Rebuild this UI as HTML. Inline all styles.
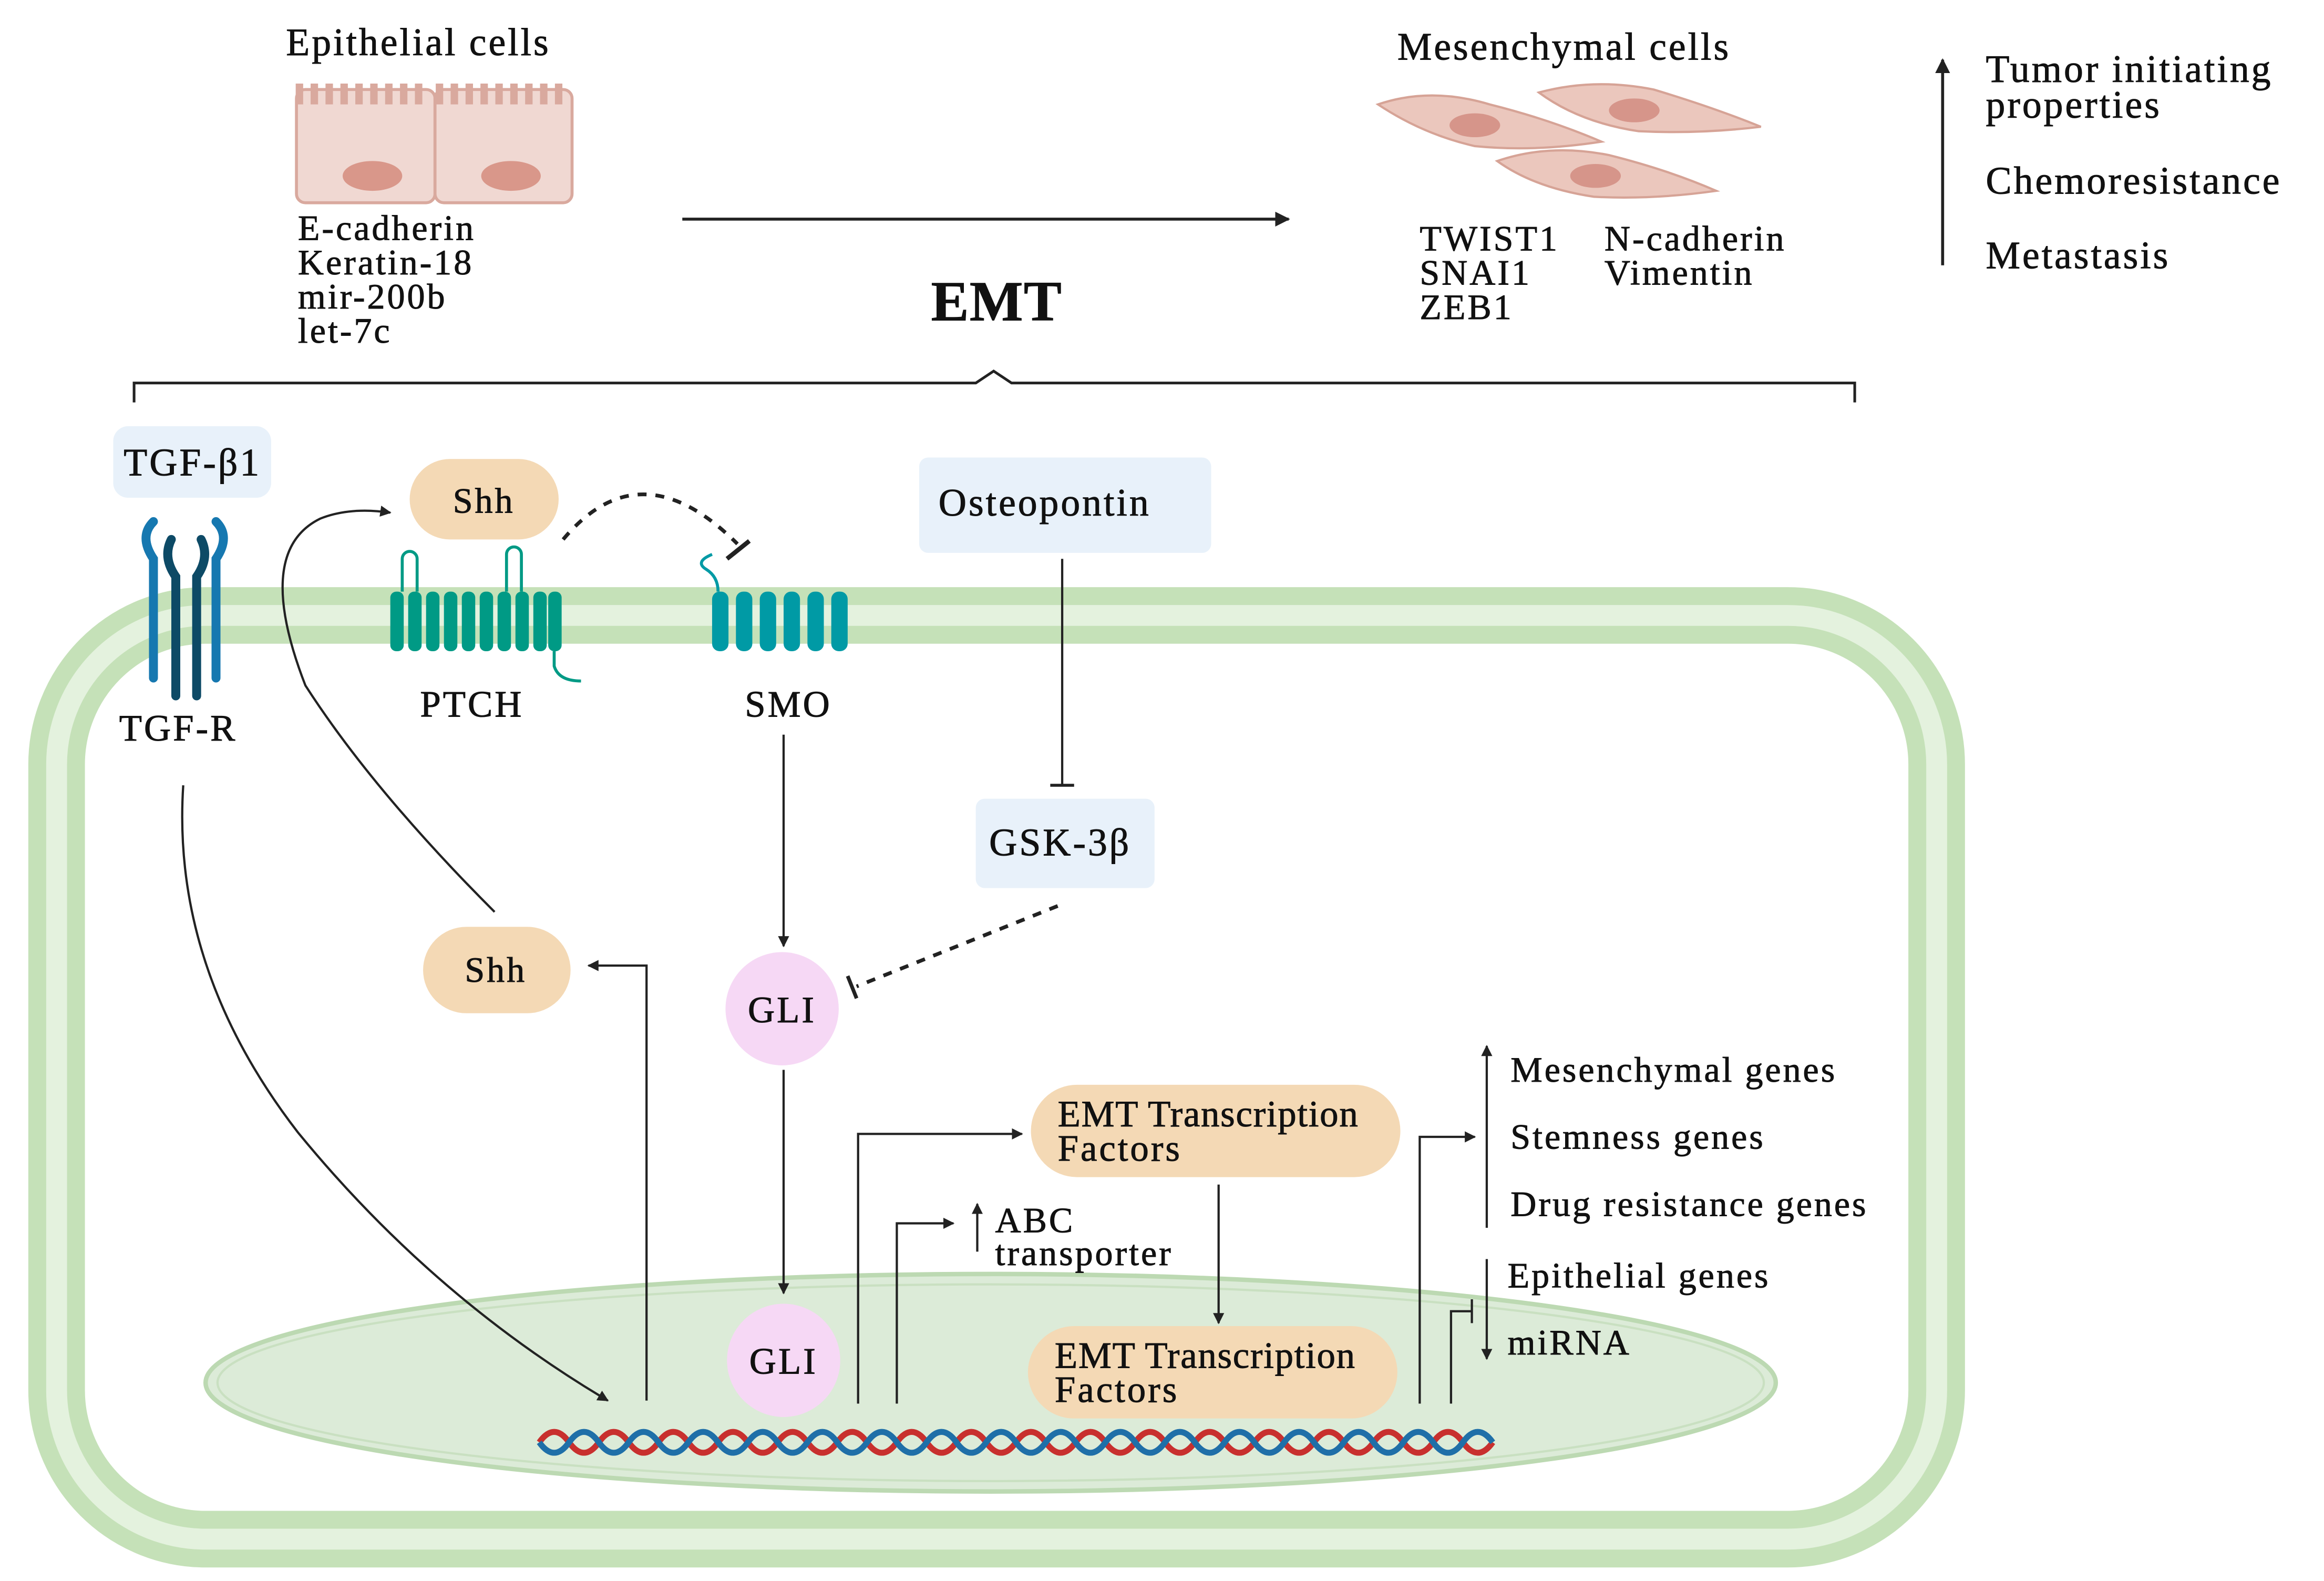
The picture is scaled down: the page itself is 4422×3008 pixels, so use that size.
<!DOCTYPE html>
<html><head><meta charset="utf-8"><style>
html,body{margin:0;padding:0;background:#fff}
svg{display:block}
text{font-family:"Liberation Serif","DejaVu Serif",serif;fill:#111;letter-spacing:1.4px;stroke:#111;stroke-width:0.35}
</style></head><body>
<svg width="4422" height="3008" viewBox="0 0 1560 1061" xmlns="http://www.w3.org/2000/svg">
<defs>
<marker id="ah" viewBox="0 0 10 10" refX="9" refY="5" markerWidth="5" markerHeight="5" orient="auto"><path d="M0,0L10,5L0,10z" fill="#222"/></marker>
</defs>
<text x="192" y="37" font-size="26">Epithelial cells</text>
<g fill="#f0d8d2" stroke="#d9a99e" stroke-width="2">
<rect x="199" y="60" width="93" height="76" rx="6"/>
<rect x="292" y="60" width="92" height="76" rx="6"/>
</g>
<path d="M201,70 v-14 M211,70 v-14 M221,70 v-14 M231,70 v-14 M241,70 v-14 M251,70 v-14 M261,70 v-14 M271,70 v-14 M281,70 v-14 M295,70 v-14 M305,70 v-14 M315,70 v-14 M325,70 v-14 M335,70 v-14 M345,70 v-14 M355,70 v-14 M365,70 v-14 M375,70 v-14" stroke="#d9a99e" stroke-width="5"/>
<ellipse cx="250" cy="118" rx="20" ry="10" fill="#d9978a"/>
<ellipse cx="343" cy="118" rx="20" ry="10" fill="#d9978a"/>
<g font-size="24"><text x="200" y="161">E-cadherin</text><text x="200" y="184">Keratin-18</text><text x="200" y="207">mir-200b</text><text x="200" y="230">let-7c</text></g>
<line x1="458" y1="147" x2="865" y2="147" stroke="#222" stroke-width="2" marker-end="url(#ah)"/>
<text x="625" y="215" font-size="38" font-weight="bold" style="letter-spacing:0.5px">EMT</text>
<path d="M90,270 V257 H655 L667,249 L679,257 H1245 V270" fill="none" stroke="#222" stroke-width="1.8"/>
<text x="938" y="40" font-size="26">Mesenchymal cells</text>
<g fill="#ebc7bd" stroke="#d6a396" stroke-width="1.5">
<path d="M925,70 Q960,58 1000,70 Q1040,80 1075,95 Q1030,102 990,98 Q955,90 925,70z"/>
<path d="M1033,62 Q1070,52 1110,60 Q1150,72 1182,85 Q1140,90 1100,88 Q1060,82 1033,62z"/>
<path d="M1005,108 Q1040,96 1080,104 Q1120,114 1152,128 Q1110,134 1070,132 Q1030,126 1005,108z"/>
</g>
<ellipse cx="990" cy="84" rx="17" ry="8" fill="#d6958a"/>
<ellipse cx="1097" cy="74" rx="17" ry="8" fill="#d6958a"/>
<ellipse cx="1071" cy="118" rx="17" ry="8" fill="#d6958a"/>
<g font-size="24"><text x="953" y="168">TWIST1</text><text x="953" y="191">SNAI1</text><text x="953" y="214">ZEB1</text><text x="1077" y="168">N-cadherin</text><text x="1077" y="191">Vimentin</text></g>
<line x1="1304" y1="178" x2="1304" y2="40" stroke="#222" stroke-width="2" marker-end="url(#ah)"/>
<g font-size="26"><text x="1333" y="55">Tumor initiating</text><text x="1333" y="79">properties</text><text x="1333" y="130">Chemoresistance</text><text x="1333" y="180">Metastasis</text></g>
<rect x="38" y="413" width="1262" height="620" rx="100" fill="none" stroke="#c5e1b8" stroke-width="38"/>
<rect x="38" y="413" width="1262" height="620" rx="100" fill="none" stroke="#e4f2de" stroke-width="14"/>
<ellipse cx="665" cy="928" rx="527" ry="73" fill="#dcebd8" stroke="#bcd9b2" stroke-width="3"/>
<ellipse cx="665" cy="928" rx="519" ry="66" fill="none" stroke="#c9e0c1" stroke-width="1.5"/>
<g fill="none" stroke-width="4">
<path stroke="#c8302e" d="M362,968 q10,-14 20,0 t20,0 t20,0 t20,0 t20,0 t20,0 t20,0 t20,0 t20,0 t20,0 t20,0 t20,0 t20,0 t20,0 t20,0 t20,0 t20,0 t20,0 t20,0 t20,0 t20,0 t20,0 t20,0 t20,0 t20,0 t20,0 t20,0 t20,0 t20,0 t20,0 t20,0 t20,0"/>
<path stroke="#1f6fa8" d="M362,968 q10,14 20,0 t20,0 t20,0 t20,0 t20,0 t20,0 t20,0 t20,0 t20,0 t20,0 t20,0 t20,0 t20,0 t20,0 t20,0 t20,0 t20,0 t20,0 t20,0 t20,0 t20,0 t20,0 t20,0 t20,0 t20,0 t20,0 t20,0 t20,0 t20,0 t20,0 t20,0 t20,0"/>
</g>
<rect x="76" y="286" width="106" height="48" rx="10" fill="#e8f1fa"/>
<text x="83" y="319" font-size="26">TGF-β1</text>
<g stroke-linecap="round" fill="none">
<path d="M103,350 q-10,10 0,25 v80" stroke="#1678b0" stroke-width="6"/>
<path d="M145,350 q10,10 0,25 v80" stroke="#1678b0" stroke-width="6"/>
<path d="M115,362 q-6,12 3,25 v80" stroke="#0d4a66" stroke-width="6"/>
<path d="M135,362 q6,12 -3,25 v80" stroke="#0d4a66" stroke-width="6"/>
</g>
<text x="80" y="497" font-size="25">TGF-R</text>
<g fill="#009a85">
<rect x="262" y="397" width="9" height="40" rx="4"/><rect x="274" y="397" width="9" height="40" rx="4"/><rect x="286" y="397" width="9" height="40" rx="4"/><rect x="298" y="397" width="9" height="40" rx="4"/><rect x="310" y="397" width="9" height="40" rx="4"/><rect x="322" y="397" width="9" height="40" rx="4"/><rect x="334" y="397" width="9" height="40" rx="4"/><rect x="346" y="397" width="9" height="40" rx="4"/><rect x="358" y="397" width="9" height="40" rx="4"/><rect x="368" y="397" width="9" height="40" rx="4"/>
</g>
<path d="M270,397 v-22 a5,5 0 0 1 10,0 v22 M340,397 v-25 a5,5 0 0 1 10,0 v25 M372,437 v10 q3,10 18,10" fill="none" stroke="#009a85" stroke-width="2"/>
<text x="282" y="481" font-size="25">PTCH</text>
<rect x="275" y="308" width="100" height="54" rx="27" fill="#f4d9b5"/>
<text x="304" y="344" font-size="24">Shh</text>
<path d="M378,362 Q430,300 495,365" fill="none" stroke="#222" stroke-width="2.5" stroke-dasharray="6,6"/>
<line x1="488" y1="375" x2="503" y2="363" stroke="#222" stroke-width="3"/>
<g fill="#009aa5">
<rect x="478" y="397" width="11" height="40" rx="5"/><rect x="494" y="397" width="11" height="40" rx="5"/><rect x="510" y="397" width="11" height="40" rx="5"/><rect x="526" y="397" width="11" height="40" rx="5"/><rect x="542" y="397" width="11" height="40" rx="5"/><rect x="558" y="397" width="11" height="40" rx="5"/>
</g>
<path d="M482,397 q0,-10 -8,-15 q-8,-5 4,-10" fill="none" stroke="#009aa5" stroke-width="2"/>
<text x="500" y="481" font-size="25">SMO</text>
<rect x="617" y="307" width="196" height="64" rx="6" fill="#e8f1fa"/>
<text x="630" y="346" font-size="26">Osteopontin</text>
<line x1="713" y1="375" x2="713" y2="527" stroke="#222" stroke-width="1.5"/>
<line x1="705" y1="527" x2="721" y2="527" stroke="#222" stroke-width="2"/>
<rect x="655" y="536" width="120" height="60" rx="6" fill="#e8f1fa"/>
<text x="664" y="574" font-size="26">GSK-3β</text>
<path d="M710,608 L575,662" fill="none" stroke="#222" stroke-width="2.5" stroke-dasharray="6,6"/>
<line x1="569" y1="655" x2="575" y2="670" stroke="#222" stroke-width="2.5"/>
<line x1="526" y1="493" x2="526" y2="635" stroke="#222" stroke-width="1.5" marker-end="url(#ah)"/>
<circle cx="525" cy="677" r="38" fill="#f6d8f5"/>
<text x="502" y="686" font-size="25">GLI</text>
<line x1="526" y1="718" x2="526" y2="868" stroke="#222" stroke-width="1.5" marker-end="url(#ah)"/>
<circle cx="526" cy="913" r="38" fill="#f6d8f5"/>
<text x="503" y="922" font-size="25">GLI</text>
<rect x="284" y="622" width="99" height="58" rx="29" fill="#f4d9b5"/>
<text x="312" y="659" font-size="24">Shh</text>
<path d="M434,940 V648 H395" fill="none" stroke="#222" stroke-width="1.5" marker-end="url(#ah)"/>
<path d="M332,612 Q250,530 205,460 Q170,370 215,348 Q235,340 262,344" fill="none" stroke="#222" stroke-width="1.5" marker-end="url(#ah)"/>
<path d="M123,527 Q115,650 200,760 Q290,870 408,940" fill="none" stroke="#222" stroke-width="1.5" marker-end="url(#ah)"/>
<path d="M576,942 V761 H686" fill="none" stroke="#222" stroke-width="1.5" marker-end="url(#ah)"/>
<rect x="692" y="728" width="248" height="62" rx="31" fill="#f4d9b5"/>
<text x="710" y="756" font-size="25" style="letter-spacing:0.6px">EMT Transcription</text>
<text x="710" y="779" font-size="25">Factors</text>
<line x1="818" y1="795" x2="818" y2="888" stroke="#222" stroke-width="1.5" marker-end="url(#ah)"/>
<rect x="690" y="890" width="248" height="62" rx="31" fill="#f4d9b5"/>
<text x="708" y="918" font-size="25" style="letter-spacing:0.6px">EMT Transcription</text>
<text x="708" y="941" font-size="25">Factors</text>
<path d="M602,942 V821 H640" fill="none" stroke="#222" stroke-width="1.5" marker-end="url(#ah)"/>
<line x1="656" y1="840" x2="656" y2="808" stroke="#222" stroke-width="1.5" marker-end="url(#ah)"/>
<text x="668" y="827" font-size="24">ABC</text>
<text x="668" y="849" font-size="24">transporter</text>
<path d="M953,942 V763 H990" fill="none" stroke="#222" stroke-width="1.5" marker-end="url(#ah)"/>
<line x1="998" y1="824" x2="998" y2="702" stroke="#222" stroke-width="1.5" marker-end="url(#ah)"/>
<g font-size="24"><text x="1014" y="726">Mesenchymal genes</text><text x="1014" y="771">Stemness genes</text><text x="1014" y="816">Drug resistance genes</text><text x="1012" y="864">Epithelial genes</text><text x="1012" y="909">miRNA</text></g>
<line x1="998" y1="845" x2="998" y2="912" stroke="#222" stroke-width="1.5" marker-end="url(#ah)"/>
<path d="M974,942 V880 H988 M988,872 V888" fill="none" stroke="#222" stroke-width="1.5"/>
</svg>
</body></html>
